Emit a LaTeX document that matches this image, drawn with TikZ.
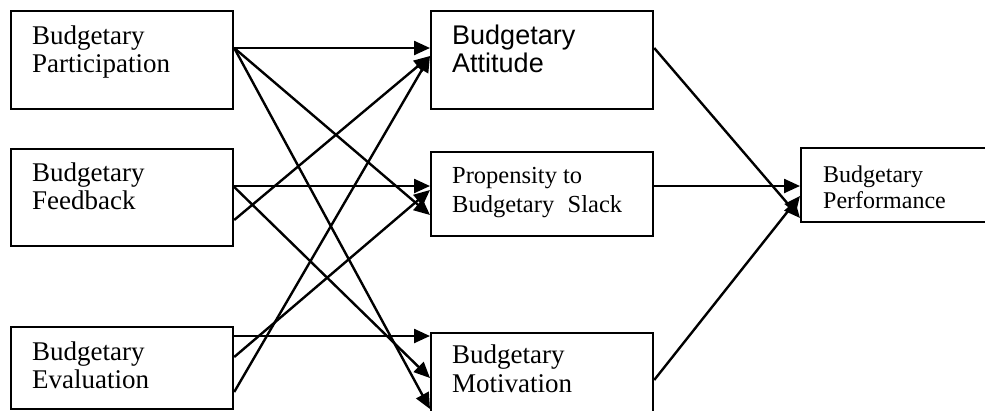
\documentclass[tikz,border=0pt]{standalone}
\usepackage{fontspec}
\setmainfont{Liberation Serif}
\newfontfamily\sansf{Liberation Sans}
\usetikzlibrary{arrows.meta,calc}
\begin{document}
\begin{tikzpicture}[x=1pt,y=-1pt,
  box/.style={draw, line width=2.2pt, inner sep=0pt, anchor=north west, rectangle},
  conn/.style={line width=2.4pt, -{Triangle[length=16pt,width=14pt]}},
  lbl/.style={anchor=base west, align=left, inner sep=0pt, font=\fontsize{27}{28}\selectfont},
  lblsm/.style={anchor=base west, align=left, inner sep=0pt, font=\fontsize{24.5}{29}\selectfont},
  lblperf/.style={anchor=base west, align=left, inner sep=0pt, font=\fontsize{24}{25.5}\selectfont}]
\useasboundingbox (0,0) rectangle (985,410);
\clip (0,0) rectangle (985,410);
% boxes
\node[box, minimum width=222pt, minimum height=98pt] (bp) at (10,10) {};
\node[box, minimum width=222pt, minimum height=97pt] (bf) at (10,148) {};
\node[box, minimum width=222pt, minimum height=82pt] (be) at (10,326) {};
\node[box, minimum width=222pt, minimum height=98pt] (ba) at (430,10) {};
\node[box, minimum width=222pt, minimum height=84pt] (bs) at (430,151) {};
\node[box, minimum width=222pt, minimum height=98pt] (bm) at (430,332) {};
\node[box, minimum width=220pt, minimum height=74pt] (bq) at (800,147) {};
% texts (anchor = baseline of the last line)
\node[lbl] (tp) at (32,72) {Budgetary\\Participation};
\node[lbl] (tf) at (32,209) {Budgetary\\Feedback};
\node[lbl] (te) at (32,388) {Budgetary\\Evaluation};
\node[lbl, font=\sansf\fontsize{27}{28}\selectfont] (ta) at (452,72) {Budgetary\\Attitude};
\node[lblsm] (ts) at (452,212) {Propensity to\\Budgetary\hspace{0.55em}Slack};
\node[lbl, font=\fontsize{27}{29}\selectfont] (tm) at (452,392) {Budgetary\\Motivation};
\node[lblperf] (tq) at (823,208) {Budgetary\\Performance};
% connectors from Participation
\draw[conn] ($(bp.north east)+(0,38)$) -- ($(ba.north west)+(0,38)$);
\draw[conn] ($(bp.north east)+(0,38)$) -- ($(bs.north west)+(0,64)$);
\draw[conn] ($(bp.north east)+(0,38)$) -- ($(bm.north west)+(0,77)$);
% from Feedback
\draw[conn] ($(bf.north east)+(0,38)$) -- ($(bs.north west)+(0,35)$);
\draw[conn] ($(bf.north east)+(0,39)$) -- ($(bm.north west)+(0,46)$);
\draw[conn] ($(bf.north east)+(0,72)$) -- ($(ba.north west)+(0,46)$);
% from Evaluation
\draw[conn] ($(be.north east)+(0,10)$) -- ($(bm.north west)+(0,4)$);
\draw[conn] ($(be.north east)+(0,31)$) -- ($(bs.north west)+(0,39)$);
\draw[conn] ($(be.north east)+(0,66)$) -- ($(ba.north west)+(0,46)$);
% to Performance
\draw[conn] ($(ba.north east)+(0,38)$) -- ($(bq.north west)+(0,71)$);
\draw[conn] ($(bs.north east)+(0,35)$) -- ($(bq.north west)+(0,39)$);
\draw[conn] ($(bm.north east)+(0,48)$) -- ($(bq.north west)+(0,49)$);
\end{tikzpicture}
\end{document}
